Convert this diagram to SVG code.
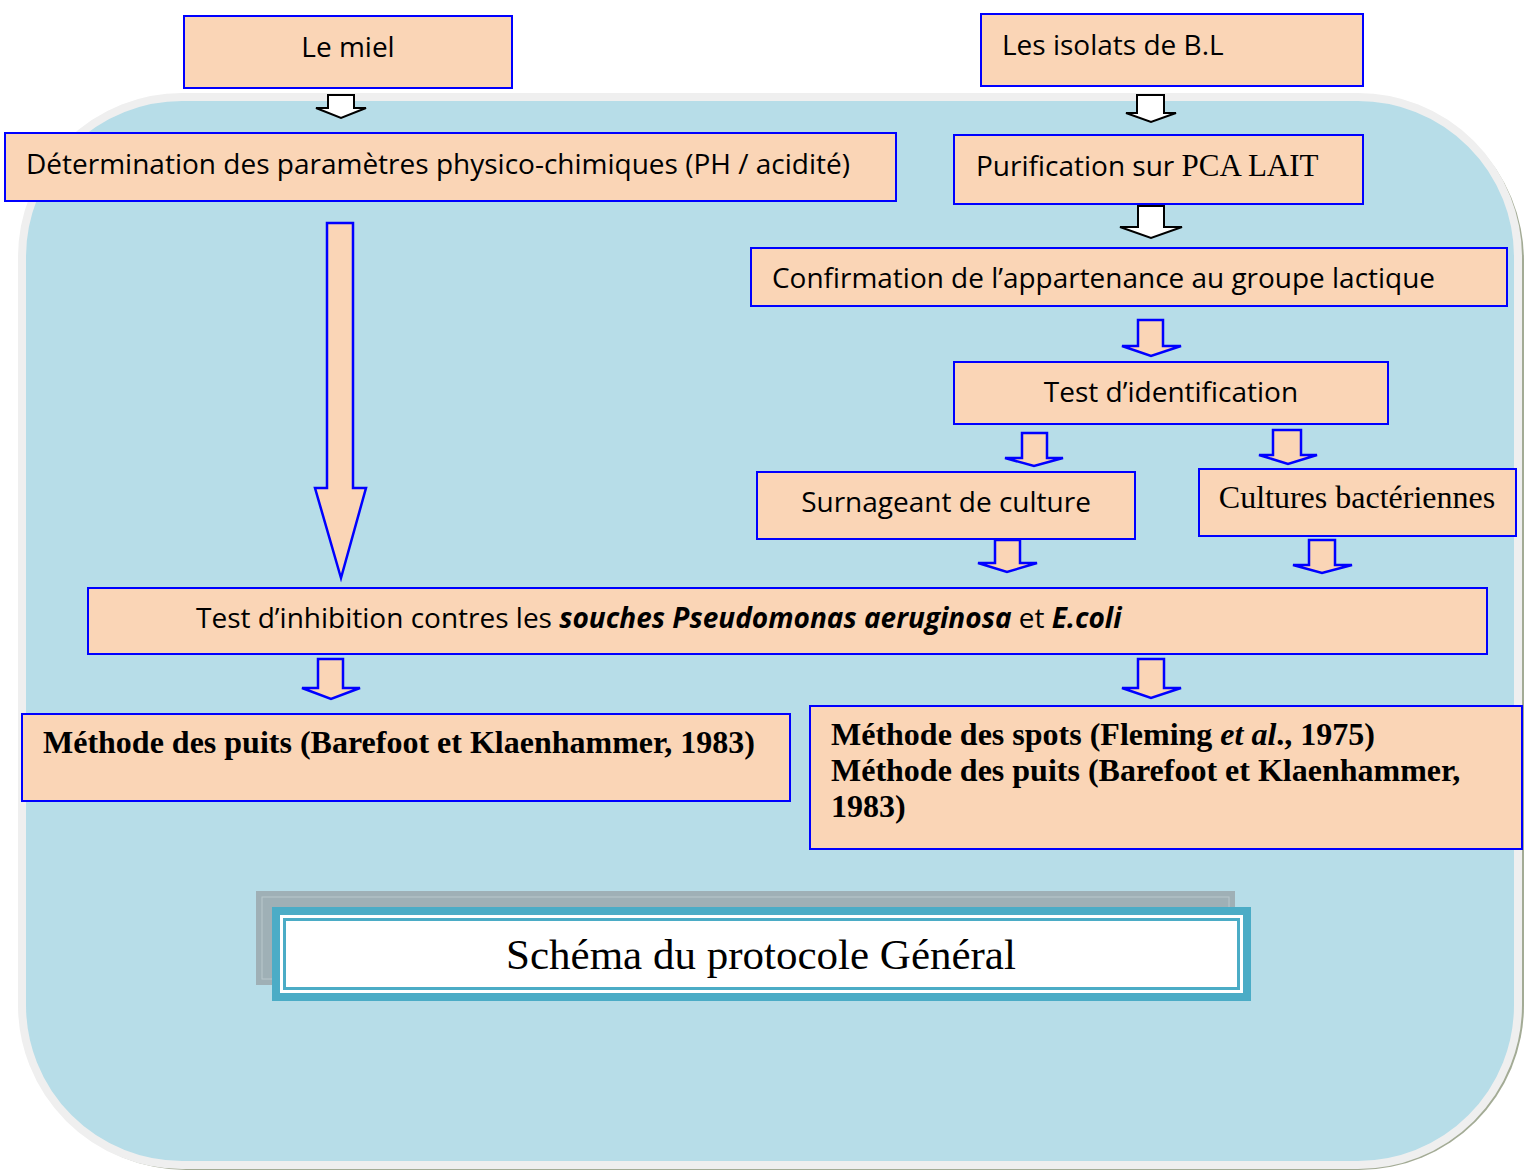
<svg xmlns="http://www.w3.org/2000/svg" width="1530" height="1172" viewBox="0 0 1530 1172">
<style>
.box{fill:#fad5b6;stroke:#0000ff;stroke-width:2}
.sans{font-family:"Open Sans","DejaVu Sans",sans-serif;font-size:28px;fill:#000}
.serif{font-family:"Liberation Serif","Times New Roman",serif;fill:#000}
.bold{font-weight:bold;font-size:32px}
.warr{fill:#fff;stroke:#000;stroke-width:2}
.parr{fill:#fad5b6;stroke:#0000ff;stroke-width:2.5;stroke-linejoin:miter}
</style>
<g id="background">
<rect x="21" y="96" width="1503" height="1074" rx="165" ry="165" fill="#a3ab95"/>
<rect x="22" y="97" width="1496" height="1068" rx="160" ry="160" fill="#b7dde8" stroke="#efefef" stroke-width="8"/>
</g>
<g id="connectors">
<path class="warr" d="M328,95 H354 V108 H366 L341,118 L316,108 H328 Z"/>
<path class="warr" d="M1137,95 H1164 V113 H1176 L1151,122 L1126,113 H1137 Z"/>
<path class="warr" d="M1138,206 H1164 V227 H1182 L1151,238 L1120,227 H1138 Z"/>
<path class="parr" d="M327,223 H353 V488 H366 L341,578 L315,488 H327 Z"/>
<path class="parr" d="M1138,320 H1163 V346 H1181 L1151,356 L1122,346 H1138 Z"/>
<path class="parr" d="M1022,433 H1047 V458 H1063 L1034,466 L1005,458 H1022 Z"/>
<path class="parr" d="M1273,430 H1301 V455 H1317 L1288,464 L1259,455 H1273 Z"/>
<path class="parr" d="M995,540 H1020 V563 H1037 L1007,572 L978,563 H995 Z"/>
<path class="parr" d="M1309,540 H1335 V565 H1352 L1322,573 L1293,565 H1309 Z"/>
<path class="parr" d="M318,659 H343 V688 H360 L331,699 L302,688 H318 Z"/>
<path class="parr" d="M1138,659 H1164 V688 H1181 L1151,698 L1122,688 H1138 Z"/>
</g>
<g id="n1"><rect class="box" x="184" y="16" width="328" height="72"/><text class="sans" x="348" y="57" text-anchor="middle">Le miel</text></g>
<g id="n2"><rect class="box" x="5" y="133" width="891" height="68"/><text class="sans" x="26" y="174" textLength="824" lengthAdjust="spacingAndGlyphs">Détermination des paramètres physico-chimiques (PH / acidité)</text></g>
<g id="n3"><rect class="box" x="981" y="14" width="382" height="72"/><text class="sans" x="1002" y="55">Les isolats de B.L</text></g>
<g id="n4"><rect class="box" x="954" y="135" width="409" height="69"/><text class="sans" x="976" y="176">Purification sur <tspan class="serif" font-size="31">PCA LAIT</tspan></text></g>
<g id="n5"><rect class="box" x="751" y="248" width="756" height="58"/><text class="sans" x="772" y="288" textLength="663" lengthAdjust="spacingAndGlyphs">Confirmation de l’appartenance au groupe lactique</text></g>
<g id="n6"><rect class="box" x="954" y="362" width="434" height="62"/><text class="sans" x="1171" y="402" text-anchor="middle">Test d’identification</text></g>
<g id="n7"><rect class="box" x="757" y="472" width="378" height="67"/><text class="sans" x="946" y="512" text-anchor="middle">Surnageant de culture</text></g>
<g id="n8"><rect class="box" x="1199" y="469" width="317" height="67"/><text class="serif" font-size="32" x="1357" y="508" text-anchor="middle">Cultures bactériennes</text></g>
<g id="n9"><rect class="box" x="88" y="588" width="1399" height="66"/><text class="sans" x="196" y="628">Test d’inhibition contres les <tspan font-weight="bold" font-style="italic">souches Pseudomonas aeruginosa</tspan> et  <tspan font-weight="bold" font-style="italic">E.coli</tspan></text></g>
<g id="n10"><rect class="box" x="22" y="714" width="768" height="87"/><text class="serif bold" x="43" y="753">Méthode des puits (Barefoot et Klaenhammer, 1983)</text></g>
<g id="n11"><rect class="box" x="810" y="706" width="712" height="143"/>
<text class="serif bold" x="831" y="745">Méthode des spots (Fleming <tspan font-style="italic">et al</tspan>., 1975)</text>
<text class="serif bold" x="831" y="781">Méthode des puits (Barefoot et Klaenhammer,</text>
<text class="serif bold" x="831" y="817">1983)</text></g>
<g id="title">
<rect x="256" y="891" width="979" height="94" fill="#9fb0b6"/>
<rect x="262" y="897" width="967" height="82" fill="none" stroke="#b9c7cc" stroke-width="1"/>
<rect x="272" y="907" width="979" height="94" fill="#4bacc6"/>
<rect x="280" y="915" width="963" height="78" fill="#fff"/>
<rect x="284.5" y="919.5" width="954" height="69" fill="none" stroke="#4bacc6" stroke-width="3"/>
<text class="serif" font-size="43" x="761" y="969" text-anchor="middle">Schéma du protocole Général</text>
</g>
</svg>
